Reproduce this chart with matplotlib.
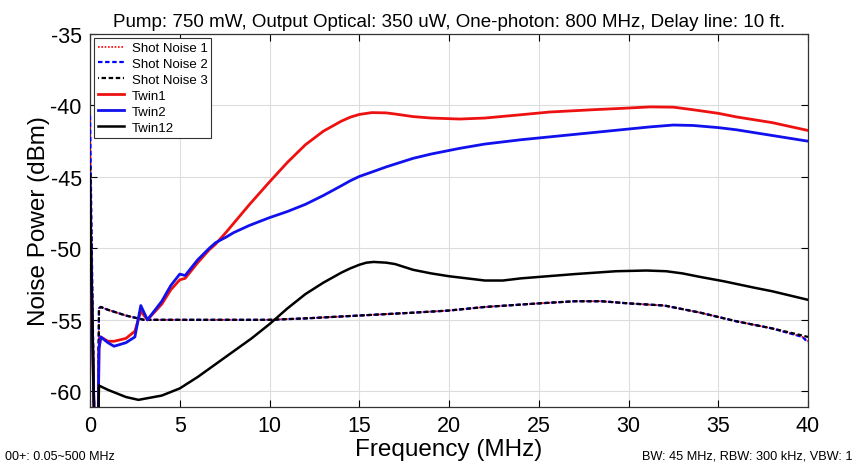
import matplotlib
matplotlib.use("Agg")
import matplotlib.pyplot as plt

plt.rcParams['font.family'] = ['Liberation Sans', 'DejaVu Sans']
plt.rcParams['axes.unicode_minus'] = False

# ---- data ----
freq_sn = [0.0, 0.1, 0.25, 0.45, 0.5, 0.6, 1.0, 2.0, 3.0, 5.0, 8.0, 10.0, 12.0, 15.0, 18.0,
           20.0, 22.0, 25.0, 27.0, 28.5, 30.0, 32.0, 34.0, 36.0, 38.0, 39.7, 40.0]
shot1 = [-41.0, -50.0, -63.0, -63.0, -54.2, -54.1, -54.3, -54.7, -55.0, -55.0, -55.0, -55.0,
         -54.9, -54.7, -54.5, -54.35, -54.1, -53.85, -53.7, -53.7, -53.85, -54.0, -54.5,
         -55.1, -55.6, -56.2, -56.5]
shot2 = [-40.7, -50.0, -63.0, -63.0, -54.2, -54.1, -54.3, -54.7, -55.0, -55.0, -55.0, -55.0,
         -54.9, -54.7, -54.5, -54.35, -54.1, -53.85, -53.7, -53.7, -53.85, -54.0, -54.5,
         -55.1, -55.6, -56.2, -56.6]
shot3 = [-44.0, -52.0, -63.0, -63.0, -54.2, -54.1, -54.3, -54.7, -55.0, -55.0, -55.0, -55.0,
         -54.9, -54.7, -54.5, -54.35, -54.1, -53.85, -53.7, -53.7, -53.85, -54.0, -54.5,
         -55.1, -55.6, -56.1, -56.2]

freq_tw = [0.0, 0.05, 0.25, 0.45, 0.5, 0.6, 1.0, 1.34, 2.0, 2.5, 2.83, 3.2, 4.0, 4.5, 5.0,
           5.3, 6.0, 6.64, 7.0, 7.6, 8.0, 8.87, 10.0, 11.0, 12.0, 13.0, 14.0, 14.5, 15.0,
           15.7, 16.5, 17.0, 18.0, 19.0, 20.6, 22.0, 24.0, 25.6, 28.0, 30.0, 31.2, 32.5,
           33.6, 35.0, 36.0, 38.0, 40.0]
twin1 = [-49.5, -51.0, -63.0, -63.0, -57.0, -56.2, -56.5, -56.5, -56.3, -55.8, -54.4, -55.0,
         -53.9, -52.9, -52.2, -52.1, -51.0, -50.1, -49.7, -48.85, -48.25, -46.95, -45.35,
         -43.98, -42.75, -41.8, -41.1, -40.82, -40.63, -40.5, -40.52, -40.6, -40.78, -40.88,
         -40.95, -40.88, -40.65, -40.46, -40.3, -40.18, -40.1, -40.12, -40.3, -40.55, -40.8,
         -41.2, -41.75]
twin2 = [-45.5, -50.0, -63.0, -63.0, -57.0, -56.2, -56.6, -56.85, -56.6, -56.2, -54.0, -55.0,
         -53.7, -52.6, -51.8, -51.9, -50.8, -50.0, -49.6, -49.2, -48.9, -48.4, -47.85, -47.42,
         -46.92, -46.3, -45.62, -45.27, -44.97, -44.66, -44.3, -44.1, -43.7, -43.4, -43.0,
         -42.7, -42.4, -42.2, -41.9, -41.65, -41.5, -41.37, -41.4, -41.55, -41.7, -42.1,
         -42.5]

freq_t12 = [0.0, 0.05, 0.25, 0.45, 0.5, 1.0, 2.0, 2.7, 4.0, 5.0, 6.0, 7.0, 8.0, 9.0, 10.0,
            11.0, 12.0, 13.0, 14.0, 14.5, 15.0, 15.4, 15.8, 16.5, 17.0, 17.5, 18.0, 19.0,
            20.0, 21.0, 22.0, 23.0, 24.0, 25.0, 27.0, 29.3, 31.0, 32.1, 33.0, 34.0, 35.3,
            37.0, 38.0, 39.0, 40.0]
twin12 = [-45.0, -50.0, -63.0, -63.0, -59.6, -59.9, -60.4, -60.6, -60.3, -59.8, -59.0, -58.1,
          -57.2, -56.3, -55.3, -54.2, -53.2, -52.4, -51.7, -51.4, -51.15, -51.0, -50.95,
          -51.0, -51.1, -51.3, -51.5, -51.75, -51.95, -52.1, -52.25, -52.25, -52.1, -52.0,
          -51.8, -51.6, -51.55, -51.6, -51.75, -52.0, -52.3, -52.75, -53.0, -53.3, -53.6]

x_ticks = [0, 5, 10, 15, 20, 25, 30, 35, 40]
y_ticks = [-60, -55, -50, -45, -40, -35]

title = "Pump: 750 mW, Output Optical: 350 uW, One-photon: 800 MHz, Delay line: 10 ft."

# ---- figure ----
fig = plt.figure(figsize=(8.55, 4.64), dpi=100)
ax = fig.add_axes([90 / 855, 1 - 408 / 464, (808 - 90) / 855, (408 - 35) / 464])

ax.plot(freq_sn, shot1, color='red', lw=1.2, ls=(0, (1, 1)), label='Shot Noise 1', zorder=3)
ax.plot(freq_sn, shot2, color='blue', lw=1.6, ls=(0, (2, 1.2)), label='Shot Noise 2', zorder=3)
ax.plot(freq_sn, shot3, color='black', lw=1.6, ls=(1.6, (2, 1.2)), label='Shot Noise 3', zorder=3)
ax.plot(freq_tw, twin1, color='#ee1111', lw=2.0, label='Twin1', zorder=4)
ax.plot(freq_tw, twin2, color='#1111ee', lw=2.0, label='Twin2', zorder=4)
ax.plot(freq_t12, twin12, color='black', lw=1.8, label='Twin12', zorder=4)

ax.set_xlim(0, 40)
ax.set_ylim(-61.1, -35)
ax.set_xticks(x_ticks)
ax.set_yticks(y_ticks)
ax.grid(True, color='#dddddd', lw=0.8)
ax.set_axisbelow(True)
ax.tick_params(direction='in', top=True, right=True, labelsize=15.5, length=5, width=0.8,
               pad=6)
for s in ax.spines.values():
    s.set_linewidth(0.9)
    s.set_color('#333333')

ax.set_xlabel('Frequency (MHz)', fontsize=17.5, labelpad=1)
ax.set_ylabel('Noise Power (dBm)', fontsize=17.5, labelpad=0)
ax.set_title(title, fontsize=13.5, pad=6)

leg = ax.legend(loc='upper left', bbox_to_anchor=(0.0, 1.0), fontsize=9.5,
                frameon=True, fancybox=False, edgecolor='#333333', framealpha=1,
                handlelength=2.0, handletextpad=0.55, borderpad=0.3, labelspacing=0.28,
                borderaxespad=0.3)
leg.get_frame().set_linewidth(0.8)

fig.text(5 / 855, 1 - 457 / 464, "00+: 0.05~500 MHz", fontsize=9, va='center', ha='left')
fig.text(852 / 855, 1 - 457 / 464, "BW: 45 MHz, RBW: 300 kHz, VBW: 1", fontsize=9.2,
         va='center', ha='right')

fig.savefig('out.png', dpi=100)
